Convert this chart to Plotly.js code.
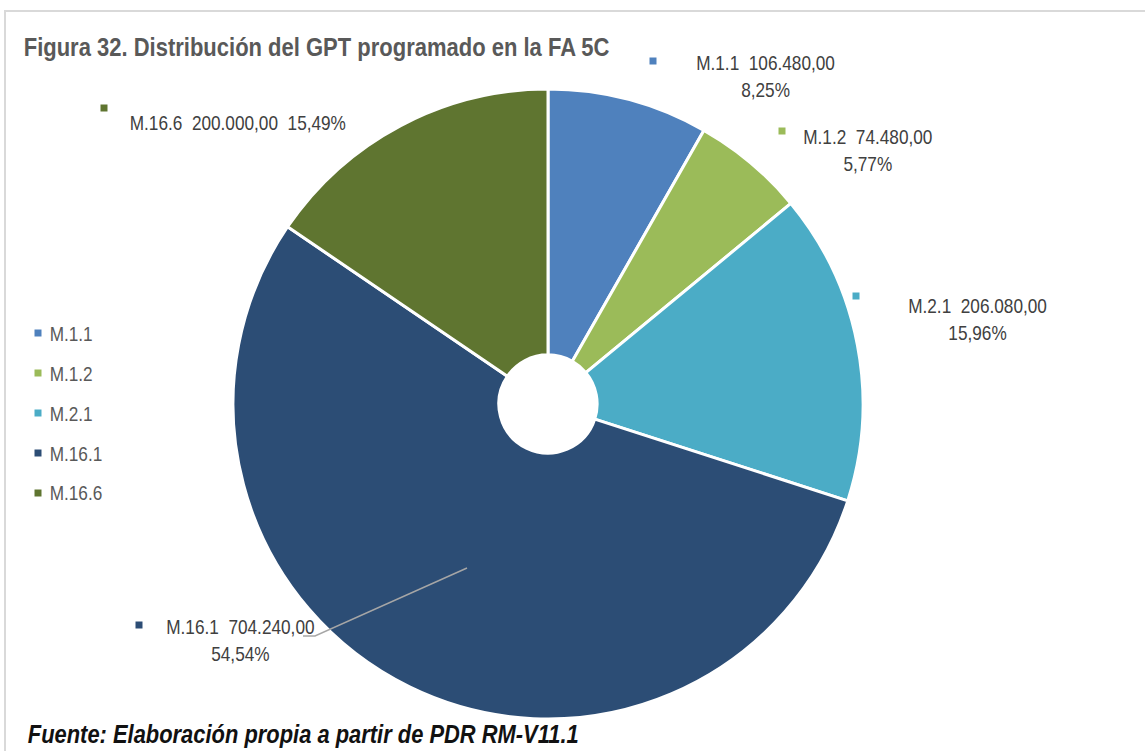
<!DOCTYPE html>
<html>
<head>
<meta charset="utf-8">
<script src="https://cdn.plot.ly/plotly-3.0.1.min.js"></script>
<style>
  html, body { margin: 0; padding: 0; background: #ffffff; }
  #wrap { position: relative; width: 1145px; height: 751px; overflow: hidden; }
  #frame { position: absolute; left: 4px; top: 10px; width: 1150px; height: 760px;
           border-left: 2px solid #d9d9d9; border-top: 2px solid #d9d9d9; pointer-events: none; }
  #chart { position: absolute; left: 0; top: 0; width: 1145px; height: 751px; }
</style>
</head>
<body>
<div id="wrap">
  <div id="chart"></div>
  <div id="frame"></div>
</div>
<script>
// ---- data ----
const labels = ['M.1.1', 'M.1.2', 'M.2.1', 'M.16.1', 'M.16.6'];
const values = [106480, 74480, 206080, 704240, 200000];
const colors = ['#4F81BD', '#9BBB59', '#4BACC6', '#2C4D75', '#5F7530'];
const titleText = 'Figura 32. Distribución del GPT programado en la FA 5C';
const sourceText = 'Fuente: Elaboración propia a partir de PDR RM-V11.1';

// ---- helpers ----
const W = 1145, H = 751;
const px = x => x / W;
const py = y => 1 - y / H;
const FONT = "'Liberation Sans Narrow', 'Arial Narrow', 'Liberation Sans', Arial, sans-serif";
const NARROW = 0.82; // horizontal condensing to imitate a narrow face

function fmtNum(v) {
  const parts = v.toFixed(2).split('.');
  parts[0] = parts[0].replace(/\B(?=(\d{3})+(?!\d))/g, '.');
  return parts[0] + ',' + parts[1];
}
const total = values.reduce((a, b) => a + b, 0);
const pct = values.map(v => (v / total * 100).toFixed(2).replace('.', ',') + '%');

// ---- layout positions (pixels) ----
const pieCx = 548, pieCy = 404, pieR = 315;
const labelPos = [
  { mx: 653, my: 61,  tx: 765, ty: 76.5, twoLine: true },
  { mx: 782, my: 131, tx: 868, ty: 149.5, twoLine: true },
  { mx: 856, my: 296, tx: 977, ty: 319.5, twoLine: true },
  { mx: 139, my: 625, tx: 240, ty: 639.5, twoLine: true },
  { mx: 104, my: 108, tx: 128, ty: 122, twoLine: false }
];
const legendX = 38, legendTextX = 48, legendY0 = 333, legendStep = 40;

const trace = {
  type: 'pie',
  labels: labels,
  values: values,
  marker: { colors: colors, line: { color: '#ffffff', width: 3 } },
  hole: 0.156,
  sort: false,
  direction: 'clockwise',
  rotation: 0,
  textinfo: 'none',
  hoverinfo: 'label+value+percent',
  showlegend: false,
  domain: {
    x: [px(pieCx - pieR), px(pieCx + pieR)],
    y: [py(pieCy + pieR), py(pieCy - pieR)]
  }
};

const annotations = [];
const annScale = []; // {anchorPx, scale or targetWidth}
const shapes = [];
const sq = 3.5;

function addAnn(a, anchorPx, opt) {
  annotations.push(Object.assign({ xref: 'paper', yref: 'paper', showarrow: false }, a));
  annScale.push(Object.assign({ anchorPx: anchorPx }, opt));
}

// title
addAnn({
  x: px(22), y: py(47), xanchor: 'left', yanchor: 'middle',
  text: '<b>' + titleText + '</b>',
  font: { family: FONT, size: 26, color: '#595959' }
}, 22, { target: 586 });
// source
addAnn({
  x: px(26), y: py(734), xanchor: 'left', yanchor: 'middle',
  text: '<b><i>' + sourceText + '</i></b>',
  font: { family: FONT, size: 25, color: '#111111' }
}, 26, { target: 551 });

// data labels
labels.forEach((lab, i) => {
  const p = labelPos[i];
  shapes.push({
    type: 'rect', xref: 'paper', yref: 'paper',
    x0: px(p.mx - sq), x1: px(p.mx + sq), y0: py(p.my + sq), y1: py(p.my - sq),
    fillcolor: colors[i], line: { width: 0 }
  });
  const txt = p.twoLine
    ? lab + '  ' + fmtNum(values[i]) + '<br>' + pct[i]
    : lab + '  ' + fmtNum(values[i]) + '  ' + pct[i];
  addAnn({
    x: px(p.tx), y: py(p.ty),
    xanchor: p.twoLine ? 'center' : 'left', yanchor: 'middle', align: 'center',
    text: txt,
    font: { family: FONT, size: 21, color: '#404040' }
  }, p.tx, { scale: NARROW });
});

// leader line for M.16.1
shapes.push({
  type: 'path', xref: 'paper', yref: 'paper',
  path: 'M ' + px(467) + ',' + py(568) + ' L ' + px(315) + ',' + py(636) + ' L ' + px(303) + ',' + py(636),
  line: { color: '#a6a6a6', width: 1.5 }
});

// legend
labels.forEach((lab, i) => {
  const y = legendY0 + i * legendStep;
  shapes.push({
    type: 'rect', xref: 'paper', yref: 'paper',
    x0: px(legendX - sq), x1: px(legendX + sq), y0: py(y + sq), y1: py(y - sq),
    fillcolor: colors[i], line: { width: 0 }
  });
  addAnn({
    x: px(legendTextX), y: py(y), xanchor: 'left', yanchor: 'middle',
    text: lab,
    font: { family: FONT, size: 21, color: '#595959' }
  }, legendTextX, { scale: NARROW });
});

const layout = {
  width: W, height: H,
  margin: { l: 0, r: 0, t: 0, b: 0, pad: 0 },
  paper_bgcolor: '#ffffff',
  showlegend: false,
  annotations: annotations,
  shapes: shapes
};

Plotly.newPlot('chart', [trace], layout, { displayModeBar: false, staticPlot: true }).then(gd => {
  gd.querySelectorAll('g.annotation').forEach(g => {
    const idx = +g.getAttribute('data-index');
    const cfg = annScale[idx];
    if (!cfg) return;
    let s = cfg.scale;
    if (cfg.target) {
      const t = g.querySelector('text');
      const w = t ? t.getBBox().width : 0;
      s = w > 0 ? cfg.target / w : NARROW;
    }
    const a = cfg.anchorPx;
    g.setAttribute('transform', 'translate(' + a + ',0) scale(' + s + ',1) translate(' + (-a) + ',0)');
  });
});
</script>
</body>
</html>
